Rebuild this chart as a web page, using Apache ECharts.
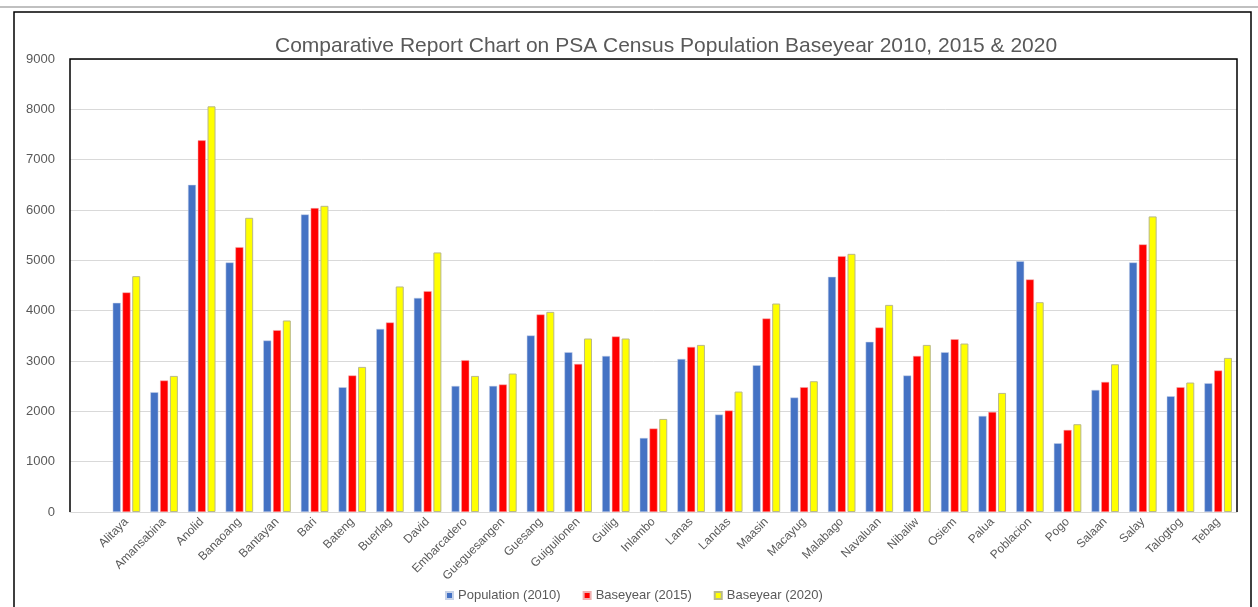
<!DOCTYPE html>
<html>
<head>
<meta charset="utf-8">
<title>PSA Census Population</title>
<script src="https://cdn.jsdelivr.net/npm/echarts@6/dist/echarts.min.js"></script>
<style>
  html, body { margin: 0; padding: 0; background: #fff; }
  #main { width: 1258px; height: 607px; }
</style>
</head>
<body>
<div id="main"></div>
<script>
// first slot is blank in the original chart (empty category)
var barangays = ["", "Alitaya", "Amansabina", "Anolid", "Banaoang", "Bantayan", "Bari", "Bateng", "Buerlag",
  "David", "Embarcadero", "Gueguesangen", "Guesang", "Guiguilonen", "Guilig", "Inlambo", "Lanas",
  "Landas", "Maasin", "Macayug", "Malabago", "Navaluan", "Nibaliw", "Osiem", "Palua", "Poblacion",
  "Pogo", "Salaan", "Salay", "Talogtog", "Tebag"];

var pop2010 = [null, 4155, 2380, 6500, 4958, 3407, 5912, 2479, 3638, 4254, 2505, 2505, 3507, 3175, 3101, 1471,
  3042, 1936, 2916, 2274, 4672, 3380, 2712, 3175, 1909, 4984, 1366, 2426, 4958, 2300, 2559];
var base2015 = [null, 4362, 2612, 7384, 5262, 3612, 6038, 2712, 3765, 4388, 3016, 2533, 3924, 2942, 3487, 1658,
  3280, 2016, 3844, 2479, 5083, 3666, 3101, 3433, 1988, 4620, 1630, 2585, 5316, 2479, 2811];
var base2020 = [null, 4686, 2704, 8060, 5845, 3805, 6083, 2883, 4481, 5157, 2704, 2751, 3976, 3447, 3447, 1849,
  3320, 2393, 4142, 2598, 5129, 4115, 3320, 3347, 2366, 4169, 1744, 2936, 5873, 2572, 3062];

var yTicks = [0, 1000, 2000, 3000, 4000, 5000, 6000, 7000, 8000, 9000];

var chart = echarts.init(document.getElementById("main"));

var gridL = 70, gridR = 21, gridT = 59, gridB = 95;
var W = 1258, H = 607;

var option = {
  backgroundColor: "#fff",
  textStyle: { fontFamily: "Liberation Sans" },
  title: {
    text: "Comparative Report Chart on PSA Census Population Baseyear 2010, 2015 & 2020",
    left: 270,
    top: 31,
    textStyle: { color: "#595959", fontSize: 21, fontWeight: "normal", fontFamily: "Liberation Sans" }
  },
  legend: {
    bottom: 0,
    left: 440,
    itemWidth: 7,
    itemHeight: 7,
    itemGap: 22,
    icon: "rect",
    textStyle: { color: "#595959", fontSize: 13 },
    data: ["Population (2010)", "Baseyear (2015)", "Baseyear (2020)"]
  },
  grid: { left: gridL, right: gridR, top: gridT, bottom: gridB, containLabel: false },
  xAxis: {
    type: "category",
    data: barangays,
    axisTick: { show: false },
    axisLine: { lineStyle: { color: "#d9d9d9", width: 1 } },
    axisLabel: { rotate: 45, interval: 0, color: "#595959", fontSize: 12, margin: 8 }
  },
  yAxis: {
    type: "value",
    min: 0,
    max: yTicks[yTicks.length - 1],
    interval: 1000,
    axisLine: { show: false },
    axisTick: { show: false },
    axisLabel: { color: "#595959", fontSize: 13, margin: 15, formatter: function (v) { return String(v); } },
    splitLine: { lineStyle: { color: "#d9d9d9", width: 1 } }
  },
  series: [
    {
      name: "Population (2010)", type: "bar", data: pop2010,
      barWidth: 8, barGap: "22%",
      itemStyle: { color: "#4472c4", borderColor: "#c8d3e8", borderWidth: 0.5 }
    },
    {
      name: "Baseyear (2015)", type: "bar", data: base2015,
      barWidth: 8, barGap: "22%",
      itemStyle: { color: "#ff0000", borderColor: "#f0b0b0", borderWidth: 0.5 }
    },
    {
      name: "Baseyear (2020)", type: "bar", data: base2020,
      barWidth: 8, barGap: "22%",
      itemStyle: { color: "#ffff00", borderColor: "#b8b88a", borderWidth: 1 }
    }
  ],
  graphic: [
    { type: "line", shape: { x1: 0, y1: 7, x2: W, y2: 7 }, style: { stroke: "#c0c0c0", lineWidth: 2 }, silent: true },
    { type: "rect", shape: { x: 14, y: 12, width: 1237, height: 620 }, style: { fill: null, stroke: "#000", lineWidth: 1.5 }, silent: true },
    {
      type: "polyline",
      shape: { points: [[gridL, H - gridB], [gridL, gridT], [W - gridR, gridT], [W - gridR, H - gridB]] },
      style: { fill: null, stroke: "#000", lineWidth: 1.5 },
      silent: true, z: 10
    }
  ]
};

chart.setOption(option);
</script>
</body>
</html>
